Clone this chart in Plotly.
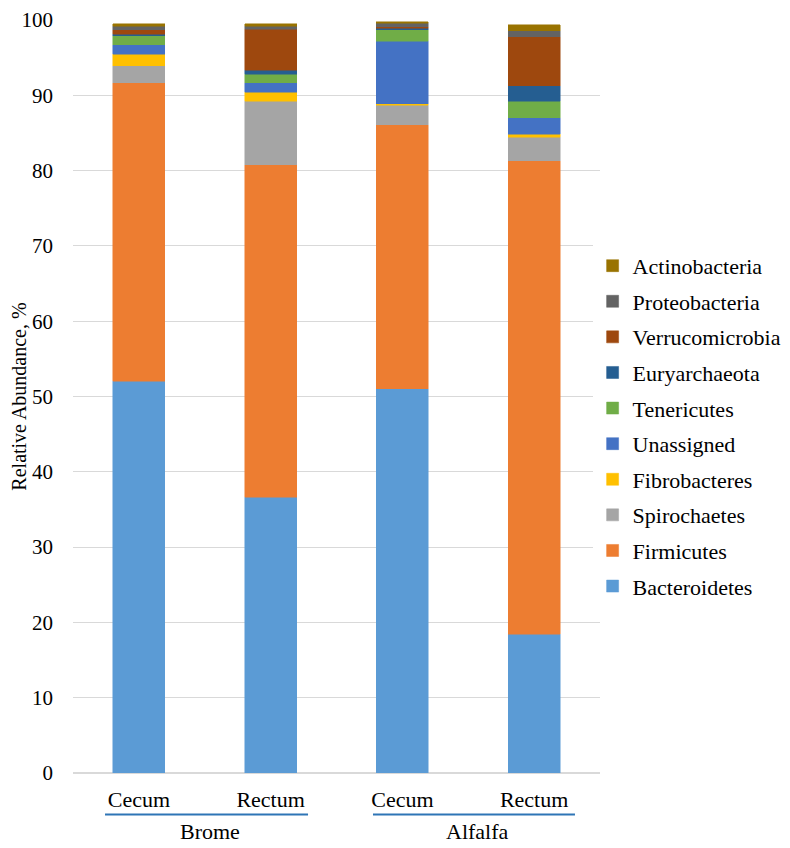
import plotly.graph_objects as go

samples = ["Brome Cecum", "Brome Rectum", "Alfalfa Cecum", "Alfalfa Rectum"]
sample_ticks = ["Cecum", "Rectum", "Cecum", "Rectum"]
groups = ["Brome", "Alfalfa"]

# stacking order, bottom to top
bacteroidetes = [52.0, 36.6, 51.0, 18.4]
firmicutes = [39.7, 44.2, 35.1, 62.9]
spirochaetes = [2.2, 8.4, 2.6, 3.1]
fibrobacteres = [1.55, 1.2, 0.2, 0.4]
unassigned = [1.25, 1.3, 8.3, 2.2]
tenericutes = [1.2, 1.1, 1.5, 2.2]
euryarchaeota = [0.2, 0.5, 0.2, 2.1]
verrucomicrobia = [0.6, 5.5, 0.2, 6.5]
proteobacteria = [0.5, 0.4, 0.5, 0.8]
actinobacteria = [0.3, 0.3, 0.2, 0.8]

series = [
    ("Bacteroidetes", bacteroidetes, "#5B9BD5"),
    ("Firmicutes", firmicutes, "#ED7D31"),
    ("Spirochaetes", spirochaetes, "#A5A5A5"),
    ("Fibrobacteres", fibrobacteres, "#FFC000"),
    ("Unassigned", unassigned, "#4472C4"),
    ("Tenericutes", tenericutes, "#70AD47"),
    ("Euryarchaeota", euryarchaeota, "#255E91"),
    ("Verrucomicrobia", verrucomicrobia, "#9E480E"),
    ("Proteobacteria", proteobacteria, "#636363"),
    ("Actinobacteria", actinobacteria, "#997300"),
]

font = "Liberation Serif, Times New Roman, serif"

fig = go.Figure()
for i, (name, vals, color) in enumerate(series):
    fig.add_trace(go.Bar(
        x=samples, y=vals, name=name, legendgroup=name,
        legendrank=100 - i,
        marker=dict(color=color, line=dict(color=color, width=0.5)),
    ))

# page body has an 8px margin, so the figure is 8px smaller
fig.update_layout(
    barmode="stack",
    bargap=0.605,
    width=782, height=840,
    margin=dict(l=65, r=190, t=12, b=75, autoexpand=False),
    plot_bgcolor="white", paper_bgcolor="white",
    font=dict(family=font, size=21, color="#000000"),
    legend=dict(
        traceorder="grouped", tracegroupgap=4,
        x=0.986, xanchor="left", y=0.461, yanchor="middle",
        font=dict(family=font, size=22), itemwidth=30,
    ),
)
fig.update_xaxes(
    tickvals=samples, ticktext=sample_ticks,
    showgrid=False, showline=False, ticks="",
    ticklabelstandoff=11, automargin=False,
    tickfont=dict(size=22),
)
fig.update_yaxes(
    range=[0, 100], dtick=10,
    showgrid=True, gridcolor="#D9D9D9", gridwidth=1,
    zeroline=True, zerolinecolor="#D9D9D9",
    ticks="", ticklabelstandoff=19, automargin=False,
    ticklabeloverflow="allow",
    title=dict(text="Relative Abundance, %", standoff=0, font=dict(size=20)),
)

# group underlines and labels
for x0, x1, label in [(-0.257, 1.284, groups[0]), (1.777, 3.31, groups[1])]:
    fig.add_shape(type="line", xref="x", yref="paper", x0=x0, x1=x1,
                  y0=-0.055, y1=-0.055, line=dict(color="#2E75B6", width=2))
    fig.add_annotation(xref="x", yref="paper", x=(x0 + x1) / 2 + 0.03, y=-0.097,
                       text=label, showarrow=False, yanchor="bottom",
                       font=dict(family=font, size=22))

fig.write_html("out.html")
